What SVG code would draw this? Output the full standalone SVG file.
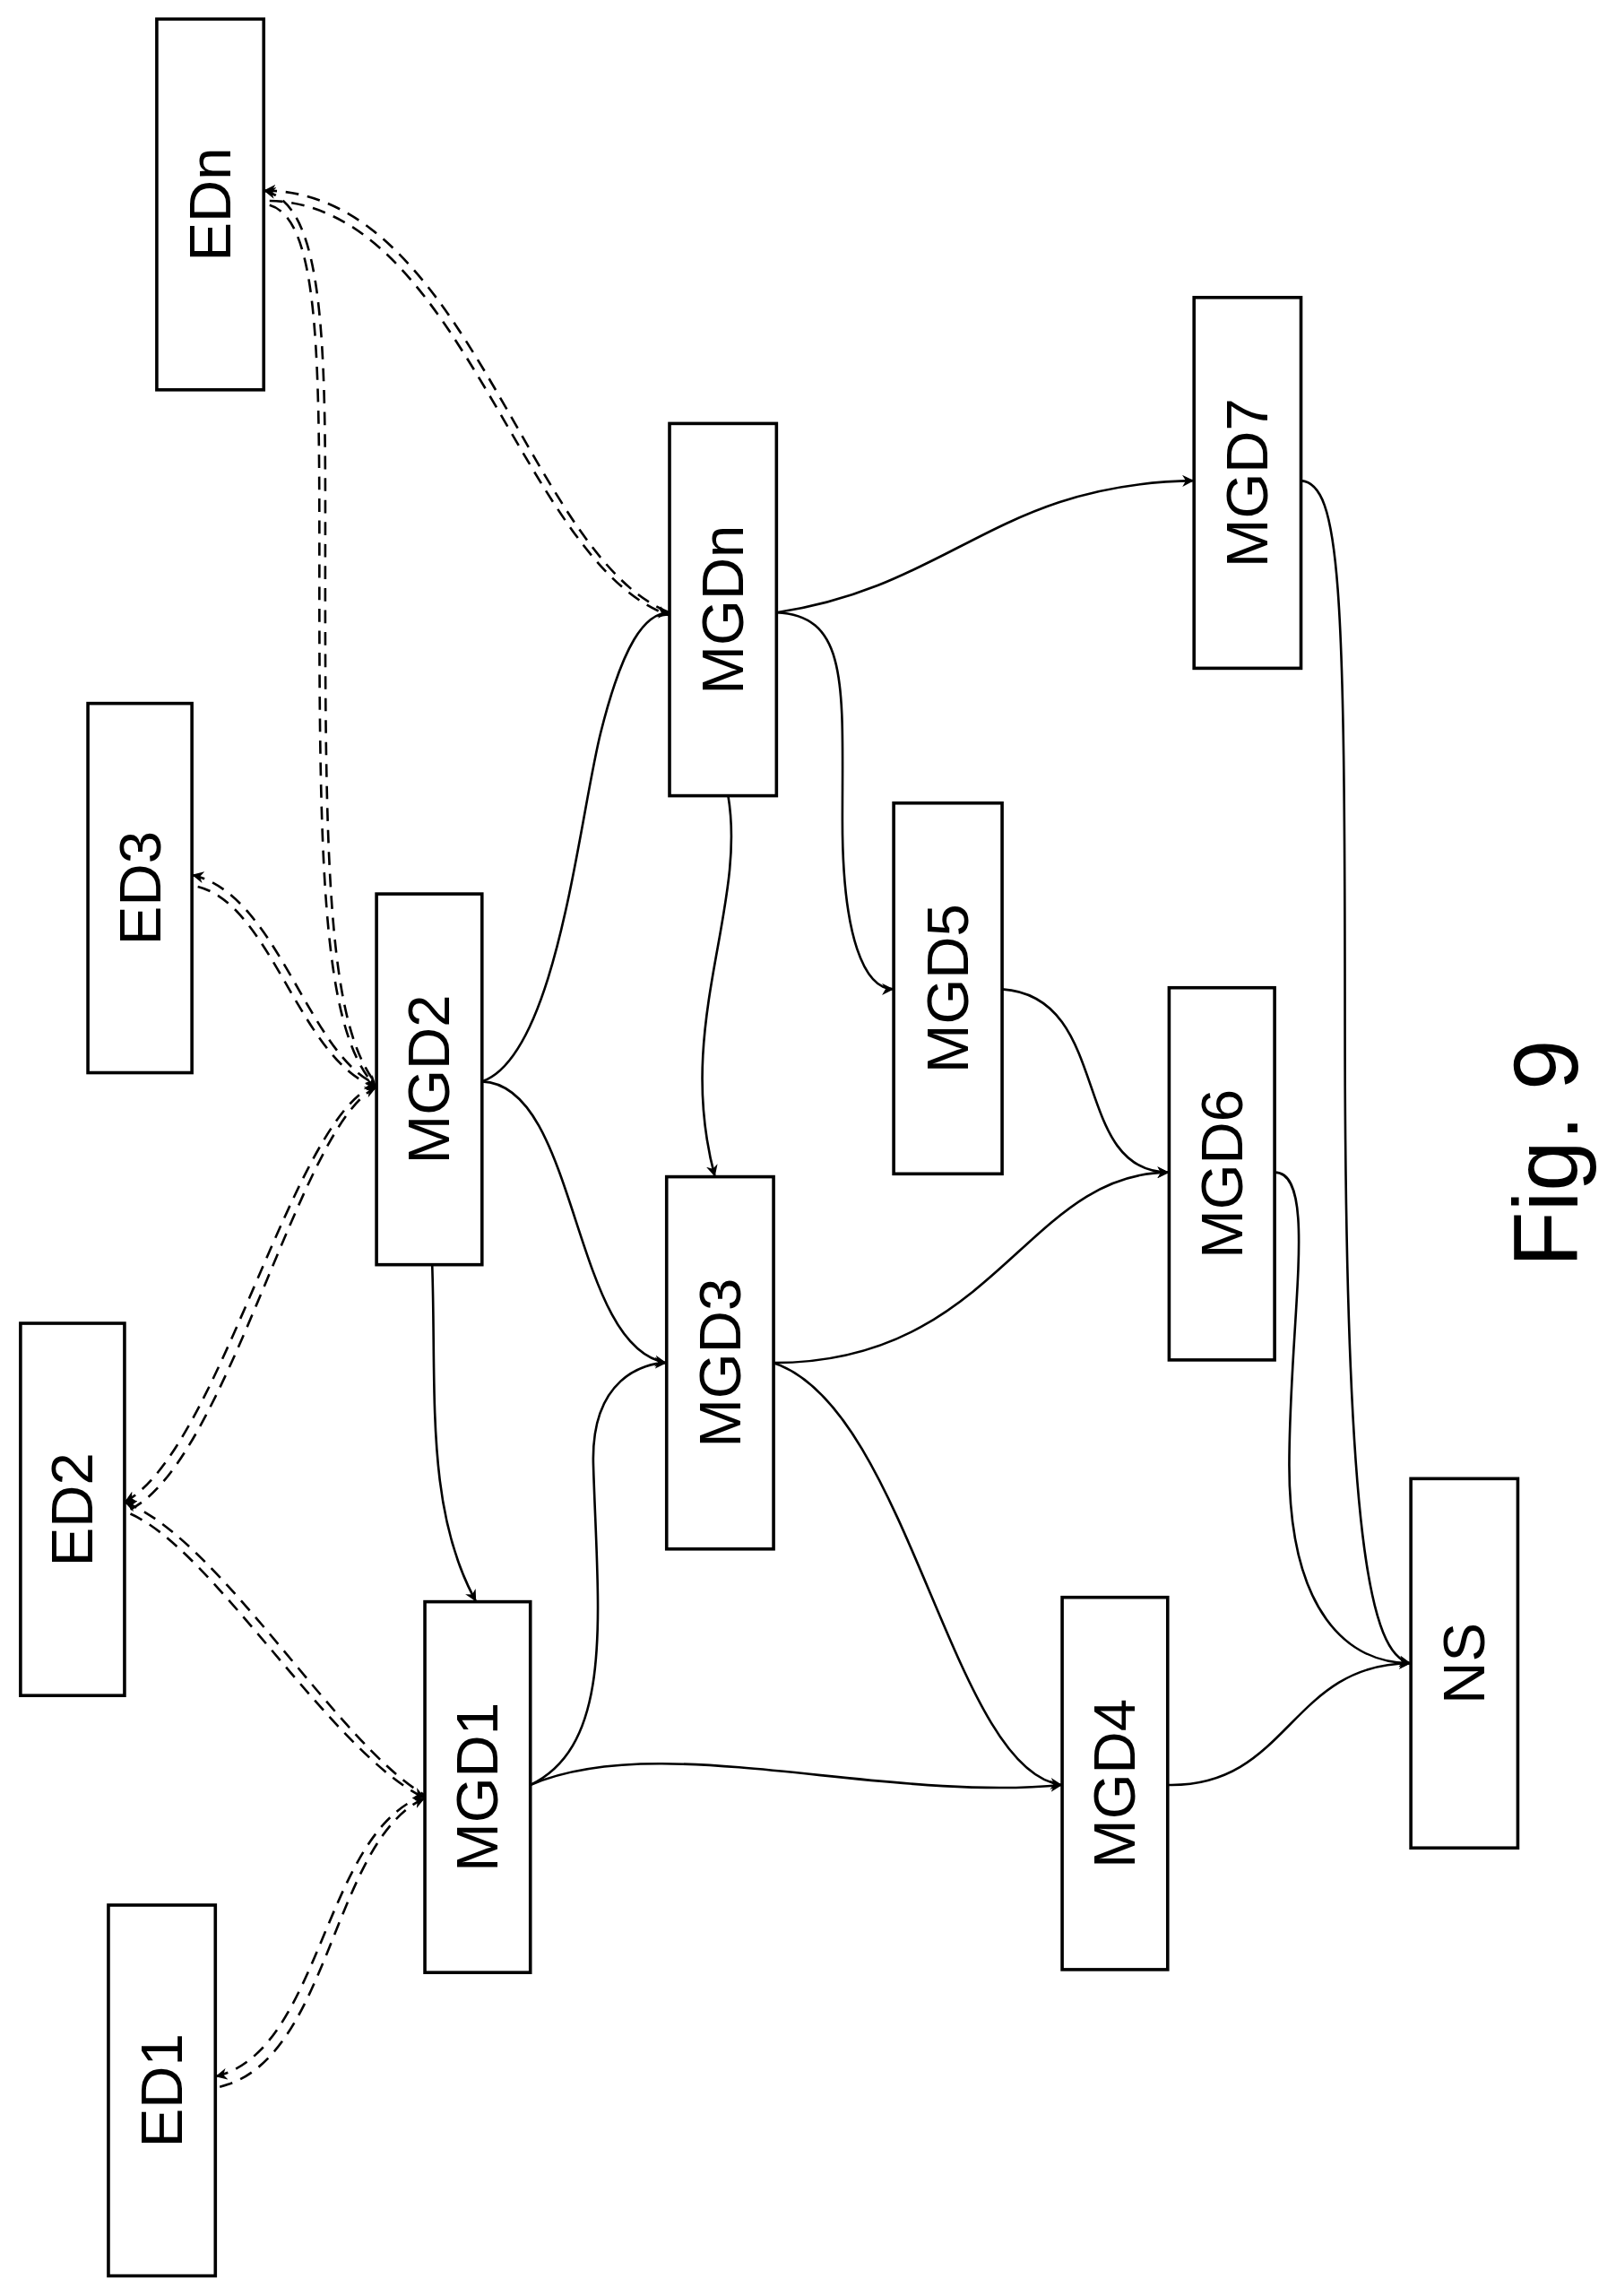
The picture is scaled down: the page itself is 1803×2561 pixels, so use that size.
<svg xmlns="http://www.w3.org/2000/svg" width="1803" height="2561" viewBox="0 0 1803 2561">
<style>
.box{fill:#fff;stroke:#000;stroke-width:2.2}
.lbl{font-family:"Liberation Sans",Arial,sans-serif;font-size:40px;text-anchor:middle;dominant-baseline:central}
.e{fill:none;stroke:#000;stroke-width:1.6}
.d{fill:none;stroke:#000;stroke-width:1.6;stroke-dasharray:9,6}
</style>
<defs>
<marker id="a" viewBox="0 0 10 10" refX="10" refY="5" markerWidth="8" markerHeight="8" markerUnits="userSpaceOnUse" orient="auto-start-reverse"><path d="M0,0 L10,5 L0,10 L3,5 Z" fill="#000"/></marker>
</defs>
<rect width="1803" height="2561" fill="#fff"/>
<g transform="scale(1.6346)">
<g id="connectors">
<path class="e" d="M329,738 C380,720 395,560 410,500 C425,440 440,418 457,418" marker-end="url(#a)"/>
<path class="e" d="M329,738 C395,740 390,920 455,930" marker-end="url(#a)"/>
<path class="e" d="M295,863 C298,950 290,1030 325,1093" marker-end="url(#a)"/>
<path class="e" d="M362,1218 C420,1190 408,1100 405,1000 C403,940 440,930 455,930" marker-end="url(#a)"/>
<path class="e" d="M362,1218 C450,1180 600,1230 725,1218" marker-end="url(#a)"/>
<path class="e" d="M497,543 C510,620 460,700 488,803" marker-end="url(#a)"/>
<path class="e" d="M530,418 C650,400 680,330 815,328" marker-end="url(#a)"/>
<path class="e" d="M530,418 C580,420 575,470 575,560 C575,640 590,675 610,675" marker-end="url(#a)"/>
<path class="e" d="M528,930 C680,930 700,800 798,800" marker-end="url(#a)"/>
<path class="e" d="M528,930 C620,960 650,1210 725,1218" marker-end="url(#a)"/>
<path class="e" d="M684,675 C760,680 730,800 798,800" marker-end="url(#a)"/>
<path class="e" d="M870,800 C900,800 880,900 880,1000 C880,1100 920,1135 963,1135" marker-end="url(#a)"/>
<path class="e" d="M888,328 C915,330 918,400 918,700 C918,1050 935,1130 963,1135" marker-end="url(#a)"/>
<path class="e" d="M797,1218 C880,1220 880,1135 963,1135" marker-end="url(#a)"/>

<path class="d" d="M180,130 C320,130 360,380 457,418" marker-start="url(#a)"/>
<path class="d" d="M184,137 C316,140 356,385 457,420" marker-end="url(#a)"/>
<path class="d" d="M180,130 C225,140 222,250 222,400 C222,600 225,700 257,740" marker-start="url(#a)"/>
<path class="d" d="M184,140 C219,150 218,250 218,400 C218,600 221,705 257,742" marker-end="url(#a)"/>
<path class="d" d="M131,597 C190,610 210,720 257,740" marker-start="url(#a)"/>
<path class="d" d="M135,605 C186,618 205,725 257,742" marker-end="url(#a)"/>
<path class="d" d="M85,1025 C150,990 200,760 257,740" marker-start="url(#a)"/>
<path class="d" d="M89,1030 C156,996 205,765 257,742" marker-end="url(#a)"/>
<path class="d" d="M85,1025 C150,1050 230,1190 290,1225" marker-start="url(#a)"/>
<path class="d" d="M89,1033 C146,1058 226,1196 290,1227" marker-end="url(#a)"/>
<path class="d" d="M147,1417 C220,1400 220,1250 290,1225" marker-start="url(#a)"/>
<path class="d" d="M150,1424 C226,1406 226,1256 290,1227" marker-end="url(#a)"/>
</g>
<g id="EDn"><rect class="box" x="107" y="13" width="73" height="253"/><text class="lbl" transform="translate(143.5,139.5) rotate(-90)">EDn</text></g>
<g id="ED3"><rect class="box" x="60" y="480" width="71" height="252"/><text class="lbl" transform="translate(95.5,606) rotate(-90)">ED3</text></g>
<g id="ED2"><rect class="box" x="14" y="903" width="71" height="254"/><text class="lbl" transform="translate(49.5,1030) rotate(-90)">ED2</text></g>
<g id="ED1"><rect class="box" x="74" y="1300" width="73" height="253"/><text class="lbl" transform="translate(110.5,1426.5) rotate(-90)">ED1</text></g>
<g id="MGD2"><rect class="box" x="257" y="610" width="72" height="253"/><text class="lbl" transform="translate(293,736.5) rotate(-90)">MGD2</text></g>
<g id="MGD1"><rect class="box" x="290" y="1093" width="72" height="253"/><text class="lbl" transform="translate(326,1219.5) rotate(-90)">MGD1</text></g>
<g id="MGDn"><rect class="box" x="457" y="289" width="73" height="254"/><text class="lbl" transform="translate(493.5,416) rotate(-90)">MGDn</text></g>
<g id="MGD3"><rect class="box" x="455" y="803" width="73" height="254"/><text class="lbl" transform="translate(491.5,930) rotate(-90)">MGD3</text></g>
<g id="MGD5"><rect class="box" x="610" y="548" width="74" height="253"/><text class="lbl" transform="translate(647,674.5) rotate(-90)">MGD5</text></g>
<g id="MGD7"><rect class="box" x="815" y="203" width="73" height="253"/><text class="lbl" transform="translate(851.5,329.5) rotate(-90)">MGD7</text></g>
<g id="MGD6"><rect class="box" x="798" y="674" width="72" height="254"/><text class="lbl" transform="translate(834,801) rotate(-90)">MGD6</text></g>
<g id="MGD4"><rect class="box" x="725" y="1090" width="72" height="254"/><text class="lbl" transform="translate(761,1217) rotate(-90)">MGD4</text></g>
<g id="NS"><rect class="box" x="963" y="1009" width="73" height="252"/><text class="lbl" transform="translate(999.5,1135) rotate(-90)">NS</text></g>
<text class="lbl" style="font-size:62px" transform="translate(1055,787) rotate(-90)">Fig. 9</text>
</g>
</svg>
